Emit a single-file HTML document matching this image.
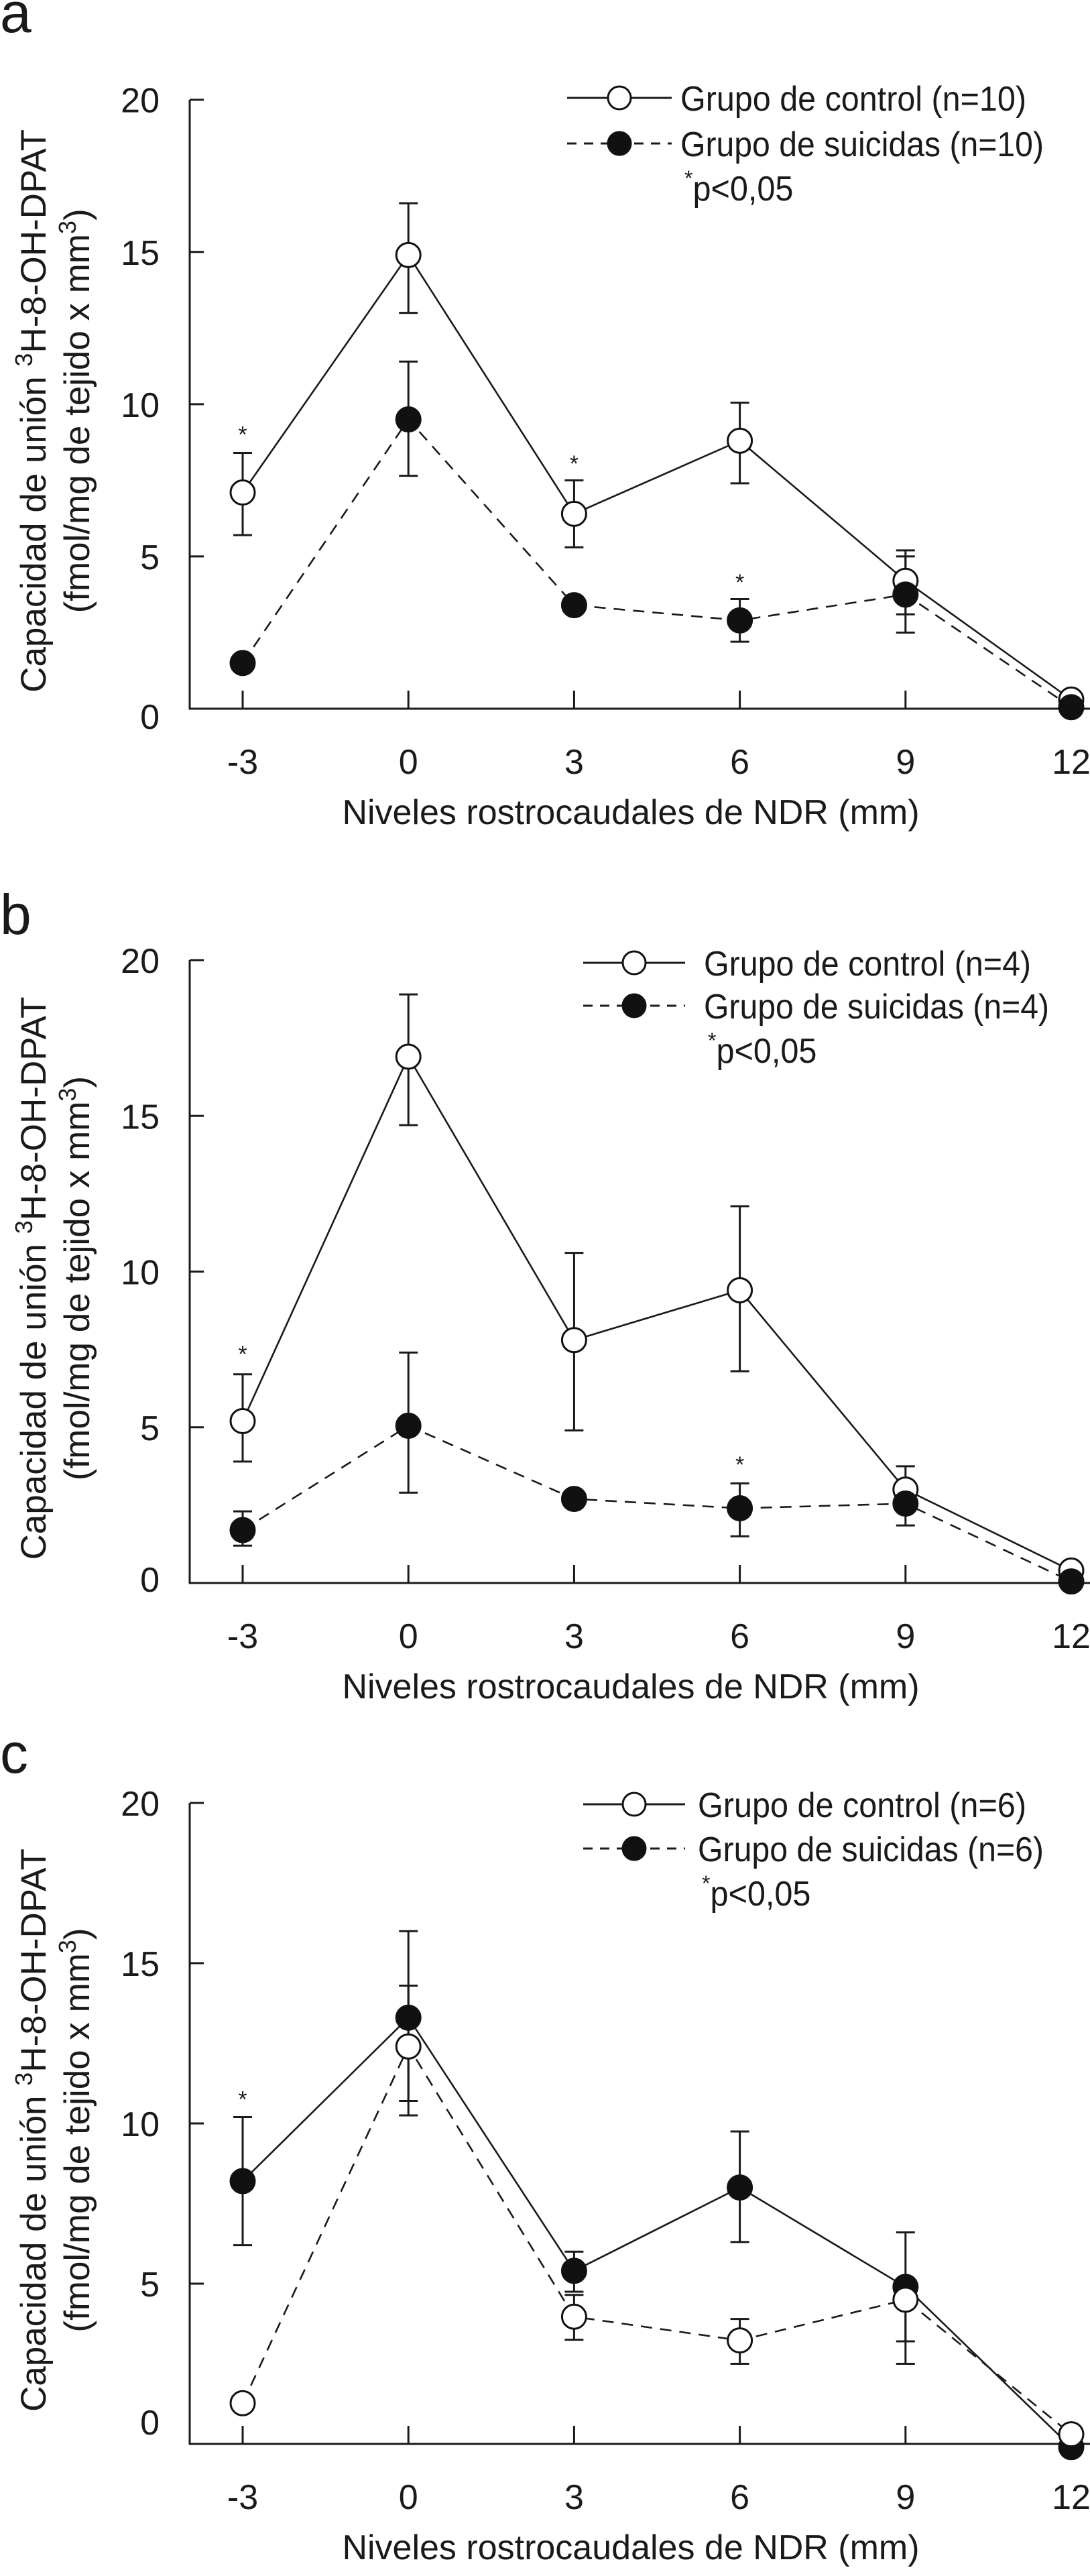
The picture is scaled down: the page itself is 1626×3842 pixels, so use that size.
<!DOCTYPE html>
<html><head><meta charset="utf-8"><title>Capacidad de unión 3H-8-OH-DPAT</title>
<style>
html,body{margin:0;padding:0;background:#fff;}
svg{display:block;}
text{font-family:"Liberation Sans",Arial,sans-serif;fill:#1a1a1a;}
</style></head>
<body>
<svg id="fig" xmlns="http://www.w3.org/2000/svg" width="1626" height="3842" viewBox="0 0 1626 3842"></svg>
<script>
// shared x categories
const xCats = [-3, 0, 3, 6, 9, 12];
const xTickLabels = ["-3", "0", "3", "6", "9", "12"];
const yTicks = [0, 5, 10, 15, 20];
const yTickLabels = ["0", "5", "10", "15", "20"];

// Panel a
const aControl = [7.1, 14.9, 6.4, 8.8, 4.2, 0.3];
const aControlHi = [8.4, 16.6, 7.5, 10.05, 5.2, null];
const aControlLo = [5.7, 13.0, 5.3, 7.4, 3.1, null];
const aSuicide = [1.5, 9.5, 3.4, 2.9, 3.75, 0.05];
const aSuicideHi = [null, 11.4, null, 3.6, 5.0, null];
const aSuicideLo = [null, 7.65, null, 2.2, 2.5, null];
const aStarX = [-3, 3, 6];
const aStarY = [9.1, 8.15, 4.25];

// Panel b
const bControl = [5.2, 16.9, 7.8, 9.4, 3.0, 0.4];
const bControlHi = [6.7, 18.9, 10.6, 12.1, 3.75, null];
const bControlLo = [3.9, 14.7, 4.9, 6.8, 2.3, null];
const bSuicide = [1.7, 5.05, 2.7, 2.4, 2.55, 0.05];
const bSuicideHi = [2.3, 7.4, null, 3.2, 3.0, null];
const bSuicideLo = [1.2, 2.9, null, 1.5, 1.85, null];
const bStarX = [-3, 6];
const bStarY = [7.45, 3.9];

// Panel c (solid line with filled markers, dashed line with open markers)
const cSolid = [8.2, 13.3, 5.4, 8.0, 4.9, -0.1];
const cSolidHi = [10.2, 16.0, 6.0, 9.75, 6.6, null];
const cSolidLo = [6.2, 10.25, 4.75, 6.3, 2.5, null];
const cDashed = [1.27, 12.4, 3.97, 3.23, 4.5, 0.3];
const cDashedHi = [null, 14.3, 4.65, 3.9, null, null];
const cDashedLo = [null, 10.7, 3.25, 2.5, 3.2, null];
const cStarX = [-3];
const cStarY = [10.85];

const NS = "http://www.w3.org/2000/svg";
const svg = document.getElementById("fig");
function mk(tag, attrs, parent){
  const e = document.createElementNS(NS, tag);
  for (const k in attrs) e.setAttribute(k, attrs[k]);
  (parent||svg).appendChild(e);
  return e;
}

function panel(cfg){
  const g = mk("g", {});
  
  
  const X0 = 283, xFirst = 362, xStep = 247.2;
  const yT = cfg.yTop, yB = cfg.yAxis;
  const xs = v => xFirst + (v - xCats[0]) / 3 * xStep;
  const ys = v => yB - v / 20 * (yB - yT);

  const L = mk("text", {x: 0, y: cfg.letterY, "font-size": 84}, g);
  L.textContent = cfg.id;
  
  

  const ax = mk("path", {d: `M${X0} ${yT} V${yB} H1626`, stroke: "#1a1a1a", "stroke-width": 3, fill: "none"}, g);
  
  

  yTicks.forEach((t, i) => {
    const yy = ys(t);
    if (t > 0) {
      const tk = mk("line", {x1: X0, x2: X0 + 21, y1: yy, y2: yy, stroke: "#1a1a1a", "stroke-width": 3}, g);
      
      
    }
    const off = t === 0 ? cfg.zeroOff : 0;
    const tl = mk("text", {x: 238, y: yy + 19 + off, "font-size": 52, "text-anchor": "end"}, g);
    tl.textContent = yTickLabels[i];
    
    
  });
  xCats.forEach((c, i) => {
    const xx = xs(c);
    const tk = mk("line", {x1: xx, x2: xx, y1: yB, y2: yB - 27, stroke: "#1a1a1a", "stroke-width": 3}, g);
    
    
    const tl = mk("text", {x: xx, y: yB + 97, "font-size": 52, "text-anchor": "middle"}, g);
    tl.textContent = xTickLabels[i];
    
    
  });

  const xt = mk("text", {x: 941, y: yB + 172, "font-size": 52, "text-anchor": "middle"}, g);
  xt.textContent = "Niveles rostrocaudales de NDR (mm)";
  
  

  const cy = (yT + yB) / 2 + 10;
  const yt1 = mk("text", {x: 0, y: 0, "font-size": 53, "text-anchor": "middle", transform: `translate(68 ${cy}) rotate(-90)`}, g);
  yt1.innerHTML = 'Capacidad de unión <tspan font-size="36" dy="-20">3</tspan><tspan dy="20">H-8-OH-DPAT</tspan>';
  
  
  const yt2 = mk("text", {x: 0, y: 0, "font-size": 53, "text-anchor": "middle", transform: `translate(133 ${cy}) rotate(-90)`}, g);
  yt2.innerHTML = '(fmol/mg de tejido x mm<tspan font-size="36" dy="-20">3</tspan><tspan dy="20">)</tspan>';
  
  

  cfg.series.forEach(s => {
    const pts = s.vals.map((v, i) => `${xs(xCats[i])},${ys(v)}`).join(" ");
    const pl = mk("polyline", {points: pts, fill: "none", stroke: "#1a1a1a", "stroke-width": 2.6, "stroke-dasharray": s.dashed ? "17 12" : "none"}, g);
    
    
  });
  cfg.series.forEach(s => {
    s.vals.forEach((v, i) => {
      const xx = xs(xCats[i]);
      [s.hi[i], s.lo[i]].forEach(e => {
        if (e === null) return;
        const eb = mk("path", {d: `M${xx} ${ys(v)} V${ys(e)} M${xx - 14} ${ys(e)} H${xx + 14}`, stroke: "#1a1a1a", "stroke-width": 3, fill: "none"}, g);
        
        
      });
    });
  });
  cfg.series.forEach(s => {
    s.vals.forEach((v, i) => {
      const m = mk("circle", {cx: xs(xCats[i]), cy: ys(v), r: 18, fill: s.filled ? "#111" : "#fff", stroke: "#111", "stroke-width": 3}, g);
      
      
    });
  });
  cfg.starX.forEach((sx, i) => {
    const st = mk("text", {x: xs(sx), y: ys(cfg.starY[i]) + 16, "font-size": 34, "text-anchor": "middle"}, g);
    st.textContent = "*";
    
    
  });

  const lg = mk("g", {}, g);
  
  
  cfg.legend.forEach((r, i) => {
    const y = cfg.legY[i];
    const ln = mk("line", {x1: cfg.legX1, x2: cfg.legX2, y1: y, y2: y, stroke: "#1a1a1a", "stroke-width": 3, "stroke-dasharray": r.dashed ? "14 11" : "none"}, lg);
    
    
    const c = mk("circle", {cx: (cfg.legX1 + cfg.legX2) / 2, cy: y, r: 17, fill: r.filled ? "#111" : "#fff", stroke: "#111", "stroke-width": 3}, lg);
    
    
    const t = mk("text", {x: cfg.legTx, y: y + 19, "font-size": 52, textLength: r.w, lengthAdjust: "spacingAndGlyphs"}, lg);
    t.textContent = r.label;
    
    
  });
  const p = mk("text", {x: cfg.legTx + 6, y: cfg.legY[2] + 19, "font-size": 52}, lg);
  p.innerHTML = '<tspan font-size="32" dy="-22">*</tspan><tspan dy="22" textLength="150" lengthAdjust="spacingAndGlyphs">p&lt;0,05</tspan>';
  
  
}

panel({id: "a", letterY: 48, yTop: 148.7, yAxis: 1057, zeroOff: 11,
  series: [
    {name: "control", vals: aControl, hi: aControlHi, lo: aControlLo, dashed: false, filled: false},
    {name: "suicidas", vals: aSuicide, hi: aSuicideHi, lo: aSuicideLo, dashed: true, filled: true}],
  starX: aStarX, starY: aStarY,
  legX1: 846, legX2: 1002, legTx: 1015, legY: [146, 214, 280],
  legend: [{label: "Grupo de control (n=10)", dashed: false, filled: false, w: 516},
           {label: "Grupo de suicidas (n=10)", dashed: true, filled: true, w: 542}]});

panel({id: "b", letterY: 1393, yTop: 1432, yAxis: 2361, zeroOff: -6,
  series: [
    {name: "control", vals: bControl, hi: bControlHi, lo: bControlLo, dashed: false, filled: false},
    {name: "suicidas", vals: bSuicide, hi: bSuicideHi, lo: bSuicideLo, dashed: true, filled: true}],
  starX: bStarX, starY: bStarY,
  legX1: 870, legX2: 1022, legTx: 1050, legY: [1436, 1500, 1566],
  legend: [{label: "Grupo de control (n=4)", dashed: false, filled: false, w: 488},
           {label: "Grupo de suicidas (n=4)", dashed: true, filled: true, w: 515}]});

panel({id: "c", letterY: 2644, yTop: 2689, yAxis: 3645, zeroOff: -33,
  series: [
    {name: "suicidas", vals: cSolid, hi: cSolidHi, lo: cSolidLo, dashed: false, filled: true},
    {name: "control", vals: cDashed, hi: cDashedHi, lo: cDashedLo, dashed: true, filled: false}],
  starX: cStarX, starY: cStarY,
  legX1: 870, legX2: 1022, legTx: 1041, legY: [2691, 2757, 2823],
  legend: [{label: "Grupo de control (n=6)", dashed: false, filled: false, w: 490},
           {label: "Grupo de suicidas (n=6)", dashed: true, filled: true, w: 516}]});
</script>
</body></html>
